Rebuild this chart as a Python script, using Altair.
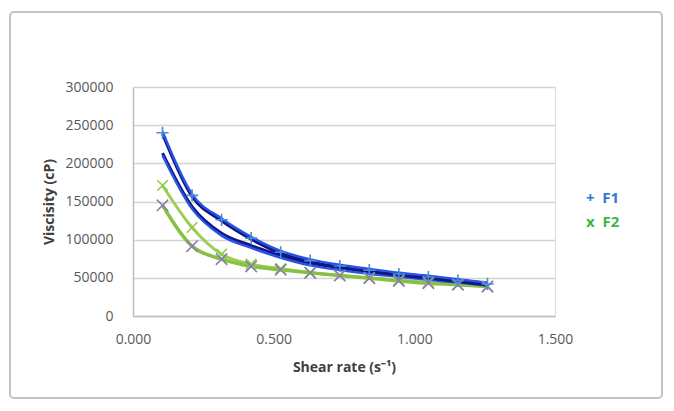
import altair as alt
import pandas as pd

# ---- data ----
shear_rate = [0.105, 0.210, 0.315, 0.420, 0.525, 0.630, 0.735, 0.840, 0.945, 1.050, 1.155, 1.260]
f1 = [240000, 158000, 126000, 102000, 83500, 72500, 65500, 60000, 55000, 51000, 46500, 42000]
f1_b = [212000, 142000, 107000, 91000, 78000, 68000, 62000, 57000, 53000, 49000, 45500, 41500]
f2 = [171000, 116000, 81000, 68000, 62000, 57000, 53000, 50000, 47000, 44000, 41500, 39000]
f2_b = [145000, 91500, 74500, 65000, 60500, 56500, 53000, 49500, 46000, 43000, 41000, 38500]

y_ticks = [0, 50000, 100000, 150000, 200000, 250000, 300000]
x_ticks = [0.0, 0.5, 1.0, 1.5]
legend_labels = ["+\u00a0\u00a0F1", "x\u00a0\u00a0F2"]
legend_colors = ["#2f78d2", "#3db54a"]

rows = []
for name, vals in [("F1", f1), ("F1b", f1_b), ("F2", f2), ("F2b", f2_b)]:
    for x, v in zip(shear_rate, vals):
        rows.append({"series": name, "rate": x, "visc": v})
df = pd.DataFrame(rows)

W, H = 422, 229
FONT = "Open Sans"

x_enc = alt.X("rate:Q",
              scale=alt.Scale(domain=[0, 1.5], nice=False),
              axis=alt.Axis(values=x_ticks, format=".3f", grid=False, ticks=False, tickSize=0,
                            labelFlush=False,
                            domainColor="#bfbfbf", domainWidth=1.5,
                            labelColor="#595959", labelFont=FONT, labelFontSize=14, labelPadding=16,
                            title="Shear rate (s⁻¹)", titleFont=FONT, titleFontSize=14,
                            titleFontWeight="bold", titleColor="#404040", titlePadding=14))
y_enc = alt.Y("visc:Q",
              scale=alt.Scale(domain=[0, 300000], nice=False),
              axis=alt.Axis(values=y_ticks, format="d", grid=True, gridColor="#d4d4d4", gridWidth=1.5,
                            ticks=False, tickSize=0, labelFlush=False,
                            domainColor="#bfbfbf", domainWidth=1.5,
                            labelColor="#595959", labelFont=FONT, labelFontSize=14, labelPadding=20,
                            title="Viscisity (cP)", titleFont=FONT, titleFontSize=14,
                            titleFontWeight="bold", titleColor="#404040", titlePadding=8))

base = alt.Chart(df)

def line(series, color, width, yoff=0):
    return base.transform_filter(alt.datum.series == series).mark_line(
        color=color, strokeWidth=width, interpolate="monotone", yOffset=yoff
    ).encode(x=x_enc, y=y_enc)

def pts(series, color, path, size=130):
    return base.transform_filter(alt.datum.series == series).mark_point(
        shape=path, color=color, filled=False, strokeWidth=1.6, size=size, opacity=1
    ).encode(x=x_enc, y=y_enc)

PLUS = "M-1,0L1,0M0,-1L0,1"
CROSS = "M-1,-1L1,1M-1,1L1,-1"

# chart frame (no fill so axes stay visible)
frame = alt.Chart(pd.DataFrame({"k": [0]})).mark_rect(
    fillOpacity=0, stroke="#c4c4c4", strokeWidth=2, cornerRadius=4
).encode(x=alt.value(-123), x2=alt.value(529), y=alt.value(-75), y2=alt.value(311))

layers = [
    line("F2", "#9ccf55", 3),
    line("F2b", "#86c23f", 3.5),
    line("F1b", "#141482", 3, -1),
    line("F1b", "#2455e6", 2.4, 1.3),
    line("F1", "#141482", 3, 1),
    line("F1", "#2455e6", 2.4, -1.3),
    pts("F2", "#93c94c", CROSS, 110),
    pts("F2b", "#8a7cae", CROSS, 130),
    pts("F1", "#4a8ad8", PLUS, 150),
    frame,
]

for i, (lab, col) in enumerate(zip(legend_labels, legend_colors)):
    layers.append(
        alt.Chart(pd.DataFrame({"t": [lab]})).mark_text(
            align="left", baseline="middle", font=FONT, fontSize=15, fontWeight="bold", color=col
        ).encode(text="t:N", x=alt.value(453), y=alt.value(111 + 24 * i))
    )

chart = alt.layer(*layers).properties(
    width=W, height=H,
    autosize=alt.AutoSizeParams(type="none"),
    padding={"left": 125, "top": 79, "right": 108, "bottom": 84},
).configure_view(stroke=None).configure(background="white")

chart.save("out.html", embed_options={"renderer": "svg", "actions": False})
